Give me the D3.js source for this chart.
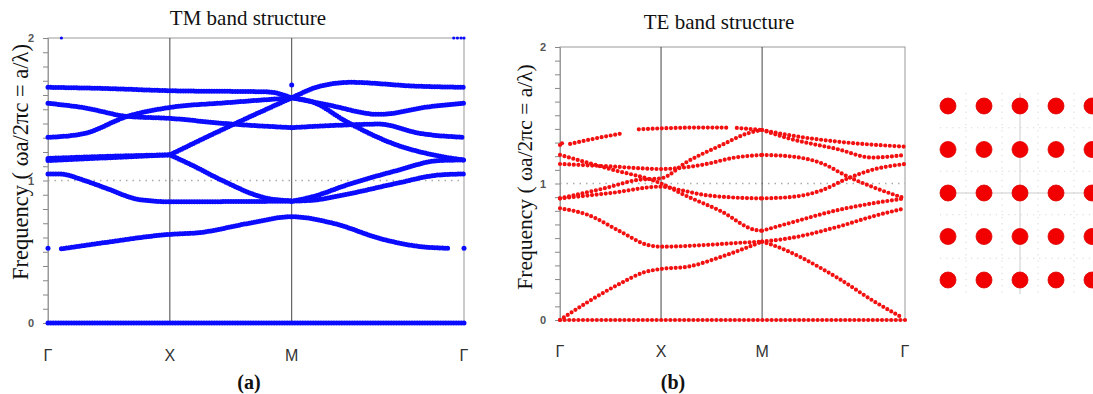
<!DOCTYPE html>
<html>
<head>
<meta charset="utf-8">
<script src="https://cdn.jsdelivr.net/npm/d3@7"></script>
<style>
  body { margin: 0; background: #fff; }
  svg { display: block; }
</style>
</head>
<body>
<div id="target"></div>
<script>
// symmetry points along the path Γ-X-M-Γ
const kLabels = ["Γ", "X", "M", "Γ"];
const kTicks = [0, 1, 2, 3.414];
const freqTicks = [0, 1, 2];

// TM bands, [k, frequency]
const tmBands = [
  [[0, 0], [3.414, 0]],
  [[0.11, 0.521], [0.42, 0.559], [1, 0.622], [1.24, 0.634], [1.65, 0.70], [2, 0.746], [2.34, 0.70], [2.75, 0.587], [3.02, 0.54], [3.3, 0.524]],
  [[0, 1.046], [0.1, 1.045], [0.3, 1.0], [0.48, 0.945], [0.75, 0.866], [1, 0.851], [1.5, 0.852], [2, 0.855]],
  [[0, 1.140], [0.5, 1.16], [1, 1.18]],
  [[0, 1.155], [0.5, 1.17], [1, 1.18]],
  [[1, 1.18], [1.5, 1.385], [2, 1.58]],
  [[1, 1.18], [1.2, 1.10], [1.43, 1.0], [1.8, 0.875], [2, 0.858]],
  [[0, 1.303], [0.3, 1.33], [0.65, 1.45], [1, 1.513], [1.45, 1.545], [2, 1.58]],
  [[0, 1.542], [0.3, 1.51], [0.65, 1.45], [1, 1.436], [1.45, 1.40], [2, 1.371]],
  [[0, 1.654], [0.5, 1.645], [1, 1.630], [1.8, 1.622], [2, 1.58]],
  [[2, 1.58], [2.1, 1.62], [2.175, 1.647], [2.48, 1.689], [3.0, 1.663], [3.414, 1.654]],
  [[2, 1.58], [2.3, 1.53], [2.72, 1.464], [3.13, 1.518], [3.414, 1.542]],
  [[2, 1.58], [2.175, 1.55], [2.45, 1.413], [2.86, 1.25], [3.24, 1.167], [3.414, 1.144]],
  [[2, 1.371], [2.45, 1.39], [2.72, 1.396], [3.05, 1.331], [3.414, 1.303]],
  [[2, 0.855], [2.175, 0.887], [2.45, 0.968], [2.86, 1.069], [3.21, 1.14], [3.414, 1.144]],
  [[2, 0.855], [2.175, 0.862], [2.45, 0.903], [2.86, 0.98], [3.21, 1.039], [3.414, 1.046]]
];
// stray single points in panel (a)
const tmDots = [[0, 0.524], [3.414, 0.524], [2, 1.67], [0.11, 2.0], [3.33, 2.0], [3.36, 2.0], [3.39, 2.0], [3.414, 2.0]];

// TE bands; null = gap in the dotted band
const teBands = [
  [[0, 0], [3.414, 0]],
  [[0, 0], [0.28, 0.134], [0.6, 0.269], [0.83, 0.349], [1, 0.374], [1.26, 0.39], [1.6, 0.464], [2, 0.574]],
  [[0, 0.818], [0.28, 0.769], [0.6, 0.647], [0.87, 0.549], [1, 0.537], [1.43, 0.549], [1.79, 0.566], [2, 0.574]],
  [[0, 0.891], [0.5, 0.93], [1, 0.977], [1.2, 0.95], [1.43, 0.916], [1.7, 0.898], [2, 0.891]],
  [[0, 0.891], [0.44, 0.965], [0.77, 1.026], [1, 1.038], [1.26, 1.16], [1.6, 1.282], [1.86, 1.368], [2, 1.392]],
  [[0, 1.209], [0.5, 1.105], [1, 1.0], [1.23, 0.916], [1.6, 0.794], [1.93, 0.66], [2, 0.654]],
  [[0, 1.143], [0.5, 1.125], [1, 1.106], [1.43, 1.14], [1.73, 1.19], [2, 1.209]],
  [[0.1, 1.29], [0.35, 1.33], [0.62, 1.368], null, [0.78, 1.397], [1, 1.404], [1.4, 1.41], [1.66, 1.409], null, [1.75, 1.407], [2, 1.392]],
  [[2, 1.392], [2.26, 1.355], [2.755, 1.306], [3.414, 1.27]],
  [[2, 1.392], [2.26, 1.331], [2.755, 1.25], [3.085, 1.19], [3.414, 1.209]],
  [[2, 1.209], [2.26, 1.2], [2.59, 1.148], [2.85, 1.05], [3.085, 0.977], [3.414, 0.891]],
  [[2, 0.891], [2.3, 0.902], [2.59, 0.95], [2.85, 1.038], [3.085, 1.099], [3.414, 1.143]],
  [[2, 0.654], [2.26, 0.708], [2.755, 0.806], [3.414, 0.891]],
  [[2, 0.574], [2.26, 0.598], [2.755, 0.684], [3.085, 0.757], [3.414, 0.818]],
  [[2, 0.574], [2.1, 0.55], [2.755, 0.305], [3.1, 0.14], [3.38, 0.02]]
];
const teDots = [[0, 1.282], [0.02, 1.295]];

// unit cell picture: 5 x 5 rods
const latticeCols = [0, 1, 2, 3, 4];
const latticeRows = [0, 1, 2, 3, 4];

const width = 1093, height = 394;

const svg = d3.select("#target")
  .append("svg")
  .attr("width", width)
  .attr("height", height)
  .style("font-family", "'Liberation Serif', 'Times New Roman', serif");

function drawPanel(opt) {
  const x = d3.scaleLinear().domain([0, 3.414]).range([opt.left, opt.right]);
  const y = d3.scaleLinear().domain([0, 2]).range([opt.bottom, opt.top]);
  const g = svg.append("g");

  // frame
  g.append("rect")
    .attr("x", opt.left).attr("y", opt.top)
    .attr("width", opt.right - opt.left).attr("height", opt.bottom - opt.top)
    .attr("fill", "none").attr("stroke", "#999");

  // dotted line at 1
  g.append("line")
    .attr("x1", opt.left).attr("x2", opt.right)
    .attr("y1", y(1)).attr("y2", y(1))
    .attr("stroke", "#aaa").attr("stroke-width", 1.5)
    .attr("stroke-dasharray", "1.5 5");

  // vertical lines at X and M
  g.selectAll(".sym")
    .data(kTicks.slice(1, 3))
    .enter()
    .append("line")
    .attr("x1", (d) => x(d)).attr("x2", (d) => x(d))
    .attr("y1", opt.top).attr("y2", opt.bottom)
    .attr("stroke", "#444");

  // left axis, minor ticks every 0.1
  g.append("g")
    .attr("transform", `translate(${opt.left},0)`)
    .call(d3.axisLeft(y).tickValues(d3.range(0, 2.001, 0.1)).tickSize(5).tickFormat(""))
    .call((a) => a.select(".domain").attr("stroke", "#999"))
    .call((a) => a.selectAll(".tick line").attr("stroke", "#888"));

  g.selectAll(".ylab")
    .data(freqTicks)
    .enter()
    .append("text")
    .attr("x", opt.left - 14)
    .attr("y", (d) => y(d) + 4)
    .attr("text-anchor", "end")
    .style("font-family", "'Liberation Sans', Arial, sans-serif")
    .style("font-weight", "bold")
    .style("font-size", "11px")
    .attr("fill", "#555")
    .text((d) => d);

  // bands
  const line = d3.line()
    .defined((d) => d !== null)
    .x((d) => x(d[0]))
    .y((d) => y(d[1]))
    .curve(d3.curveMonotoneX);

  g.append("g")
    .selectAll("path")
    .data(opt.bands)
    .enter()
    .append("path")
    .attr("d", line)
    .attr("fill", "none")
    .attr("stroke", opt.color)
    .attr("stroke-width", opt.dot)
    .attr("stroke-linecap", "round")
    .attr("stroke-dasharray", `0 ${opt.gap}`);

  g.append("g")
    .selectAll("circle")
    .data(opt.dots)
    .enter()
    .append("circle")
    .attr("cx", (d) => x(d[0]))
    .attr("cy", (d) => y(d[1]))
    .attr("r", (d) => d[1] === 2 ? 1.6 : opt.dot / 2)
    .attr("fill", opt.color);

  // k labels
  g.selectAll(".klab")
    .data(kTicks)
    .enter()
    .append("text")
    .attr("x", (d) => x(d))
    .attr("y", opt.kLabelY)
    .attr("text-anchor", "middle")
    .style("font-family", "'Liberation Sans', Arial, sans-serif")
    .style("font-size", "16px")
    .attr("fill", "#333")
    .text((d, i) => kLabels[i]);

  // title
  g.append("text")
    .attr("x", opt.titleX).attr("y", opt.titleY)
    .attr("text-anchor", "middle")
    .style("font-size", "21px")
    .attr("fill", "#111")
    .text(opt.title);

  // y label
  g.append("text")
    .attr("transform", `translate(${opt.yLabelX},${opt.yLabelY}) rotate(-90)`)
    .attr("text-anchor", "middle")
    .style("font-size", opt.yLabelSize)
    .attr("fill", "#111")
    .text("Frequency ( ωa/2πc = a/λ)");

  // caption
  g.append("text")
    .attr("x", opt.capX).attr("y", 389)
    .attr("text-anchor", "middle")
    .style("font-size", "20px")
    .style("font-weight", "bold")
    .attr("fill", "#111")
    .text(opt.caption);
}

drawPanel({
  left: 48, right: 464, top: 38, bottom: 323,
  bands: tmBands, dots: tmDots, color: "#0b0bff", dot: 5, gap: 2.6,
  kLabelY: 361, title: "TM band structure", titleX: 248, titleY: 25,
  yLabelX: 28, yLabelY: 162, yLabelSize: "22.5px", caption: "(a)", capX: 249
});

drawPanel({
  left: 560, right: 905, top: 47, bottom: 320,
  bands: teBands, dots: teDots, color: "#f21010", dot: 4.2, gap: 4.6,
  kLabelY: 357, title: "TE band structure", titleX: 719, titleY: 29,
  yLabelX: 532, yLabelY: 177, yLabelSize: "21.5px", caption: "(b)", capX: 673
});

// lattice picture
const lx = d3.scalePoint().domain(latticeCols).range([948, 1092]);
const ly = d3.scalePoint().domain(latticeRows).range([106, 280]);
const lat = svg.append("g");

// faint dotted guide lines between rods
const half = (s, v) => s(v) + s.step() / 2;
lat.selectAll(".gh")
  .data(latticeRows.slice(0, 4))
  .enter()
  .append("line")
  .attr("x1", 940).attr("x2", width)
  .attr("y1", (d) => half(ly, d)).attr("y2", (d) => half(ly, d))
  .attr("stroke", "#d6d6d6")
  .attr("stroke-dasharray", "1.2 5");
lat.selectAll(".gv")
  .data(latticeCols.slice(0, 4))
  .enter()
  .append("line")
  .attr("x1", (d) => half(lx, d)).attr("x2", (d) => half(lx, d))
  .attr("y1", 93).attr("y2", 294)
  .attr("stroke", "#d6d6d6")
  .attr("stroke-dasharray", "1.2 5");

lat.append("line")
  .attr("x1", 940).attr("x2", width)
  .attr("y1", ly(2)).attr("y2", ly(2))
  .attr("stroke", "#ccc");
lat.append("line")
  .attr("x1", lx(2)).attr("x2", lx(2))
  .attr("y1", 93).attr("y2", 294)
  .attr("stroke", "#ccc");

lat.selectAll("circle")
  .data(d3.cross(latticeCols, latticeRows))
  .enter()
  .append("circle")
  .attr("cx", (d) => lx(d[0]))
  .attr("cy", (d) => ly(d[1]))
  .attr("r", 8)
  .attr("fill", "#f20000")
  .attr("stroke", "#d00")
  .attr("stroke-width", 0.8);
</script>
</body>
</html>
